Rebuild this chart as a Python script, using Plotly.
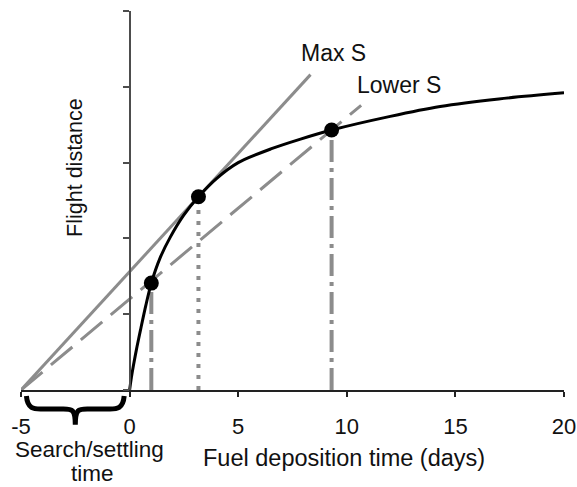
import plotly.graph_objects as go

# ---- data ----
curve_x = [0, 0.08, 0.18, 0.34, 0.5, 0.75, 1.0, 1.4, 1.88, 2.5, 3.17, 4.0, 5.0, 6.5, 7.87, 9.3, 12.0, 14.3, 17.0, 20.0]
curve_y = [0, 0.16, 0.33, 0.57, 0.79, 1.12, 1.41, 1.74, 2.02, 2.31, 2.55, 2.79, 3.0, 3.18, 3.31, 3.43, 3.61, 3.74, 3.84, 3.92]

pt_x = [1.0, 3.17, 9.3]
pt_y = [1.41, 2.55, 3.43]

search_start = -5.0          # x where tangent lines meet the x-axis
maxs_end_x = 8.33            # where "Max S" tangent ends
lower_end_x = 10.66          # where "Lower S" tangent ends

x_ticks = [-5, 0, 5, 10, 15, 20]
x_tick_text = ["-5", "0", "5", "10", "15", "20"]
y_ticks = [0, 1, 2, 3, 4, 5]

labels = {"maxs": "Max S", "lower": "Lower S",
          "xtitle": "Fuel deposition time (days)", "ytitle": "Flight distance",
          "search1": "Search/settling", "search2": "time"}

GRAY = "#8c8c8c"
AX = "#4d4d4d"
FONT = "Liberation Sans, Arial, sans-serif"

fig = go.Figure()

def tangent(px, py, end_x):
    slope = py / (px - search_start)
    return [search_start, end_x], [0, slope * (end_x - search_start)]

mx, my = tangent(pt_x[1], pt_y[1], maxs_end_x)
lx, ly = tangent(pt_x[2], pt_y[2], lower_end_x)

fig.add_trace(go.Scatter(x=mx, y=my, mode="lines", line=dict(color=GRAY, width=3)))
fig.add_trace(go.Scatter(x=lx, y=ly, mode="lines",
                         line=dict(color=GRAY, width=3, dash="28px,11px")))

drop_styles = ["22px,6px,4px,6px", "4px,7px", "22px,6px,4px,6px"]
for xv, yv, ds in zip(pt_x, pt_y, drop_styles):
    fig.add_trace(go.Scatter(x=[xv, xv], y=[0, yv], mode="lines",
                             line=dict(color=GRAY, width=4, dash=ds)))

fig.add_trace(go.Scatter(x=curve_x, y=curve_y, mode="lines",
                         line=dict(color="black", width=3, shape="spline", smoothing=0.8)))
fig.add_trace(go.Scatter(x=pt_x, y=pt_y, mode="markers",
                         marker=dict(color="black", size=15)))

# curly brace under the search/settling interval (x in data, y in paper)
b0, b1 = search_start, 0.0
bm = (b0 + b1) / 2
top, mid, tip = -0.016, -0.05, -0.092
brace = (f"M {b0+0.25},{top} C {b0+0.3},{mid} {b0+0.6},{mid} {b0+0.9},{mid} "
         f"L {bm-0.55},{mid} C {bm-0.15},{mid} {bm},{mid} {bm},{tip} "
         f"C {bm},{mid} {bm+0.15},{mid} {bm+0.55},{mid} "
         f"L {b1-0.9},{mid} C {b1-0.6},{mid} {b1-0.3},{mid} {b1-0.25},{top}")
fig.add_shape(type="path", path=brace, xref="x", yref="paper",
              line=dict(color="black", width=5))

ann = [
    dict(x=9.39, y=4.44, xref="x", yref="y", text=labels["maxs"], size=23),
    dict(x=12.4, y=4.02, xref="x", yref="y", text=labels["lower"], size=23),
    dict(x=0.595, y=-0.179, xref="paper", yref="paper", text=labels["xtitle"], size=23.5),
    dict(x=0.099, y=0.588, xref="paper", yref="paper", text=labels["ytitle"], textangle=-90,
         size=21.5),
    dict(x=0.127, y=-0.1583, xref="paper", yref="paper", text=labels["search1"], size=22.5),
    dict(x=0.131, y=-0.2216, xref="paper", yref="paper", text=labels["search2"], size=22.5),
]
for a in ann:
    sz = a.pop("size")
    a.update(showarrow=False, xanchor="center", yanchor="middle", borderpad=0,
             font=dict(size=sz, color="#111111", family=FONT))
    fig.add_annotation(**a)

fig.update_layout(
    width=577, height=487,
    margin=dict(l=21, r=13, t=11, b=97),
    paper_bgcolor="white", plot_bgcolor="white",
    showlegend=False,
    font=dict(family=FONT, size=22, color="#111111"),
    xaxis=dict(range=[-5, 20], tickvals=x_ticks, ticktext=x_tick_text, showgrid=False,
               zeroline=False, automargin=False,
               showline=True, linecolor="#222222", linewidth=1.5,
               ticks="outside", ticklen=5, tickcolor="#222222", tickwidth=1.5,
               ticklabelstandoff=11, tickfont=dict(size=22)),
    yaxis=dict(range=[0, 5], tickvals=y_ticks, showgrid=False, zeroline=False,
               automargin=False,
               showline=True, linecolor=AX, linewidth=2,
               ticks="outside", ticklen=6, tickcolor=AX, tickwidth=2,
               showticklabels=False, anchor="free", position=0.2),
)

fig.write_html("out.html")
